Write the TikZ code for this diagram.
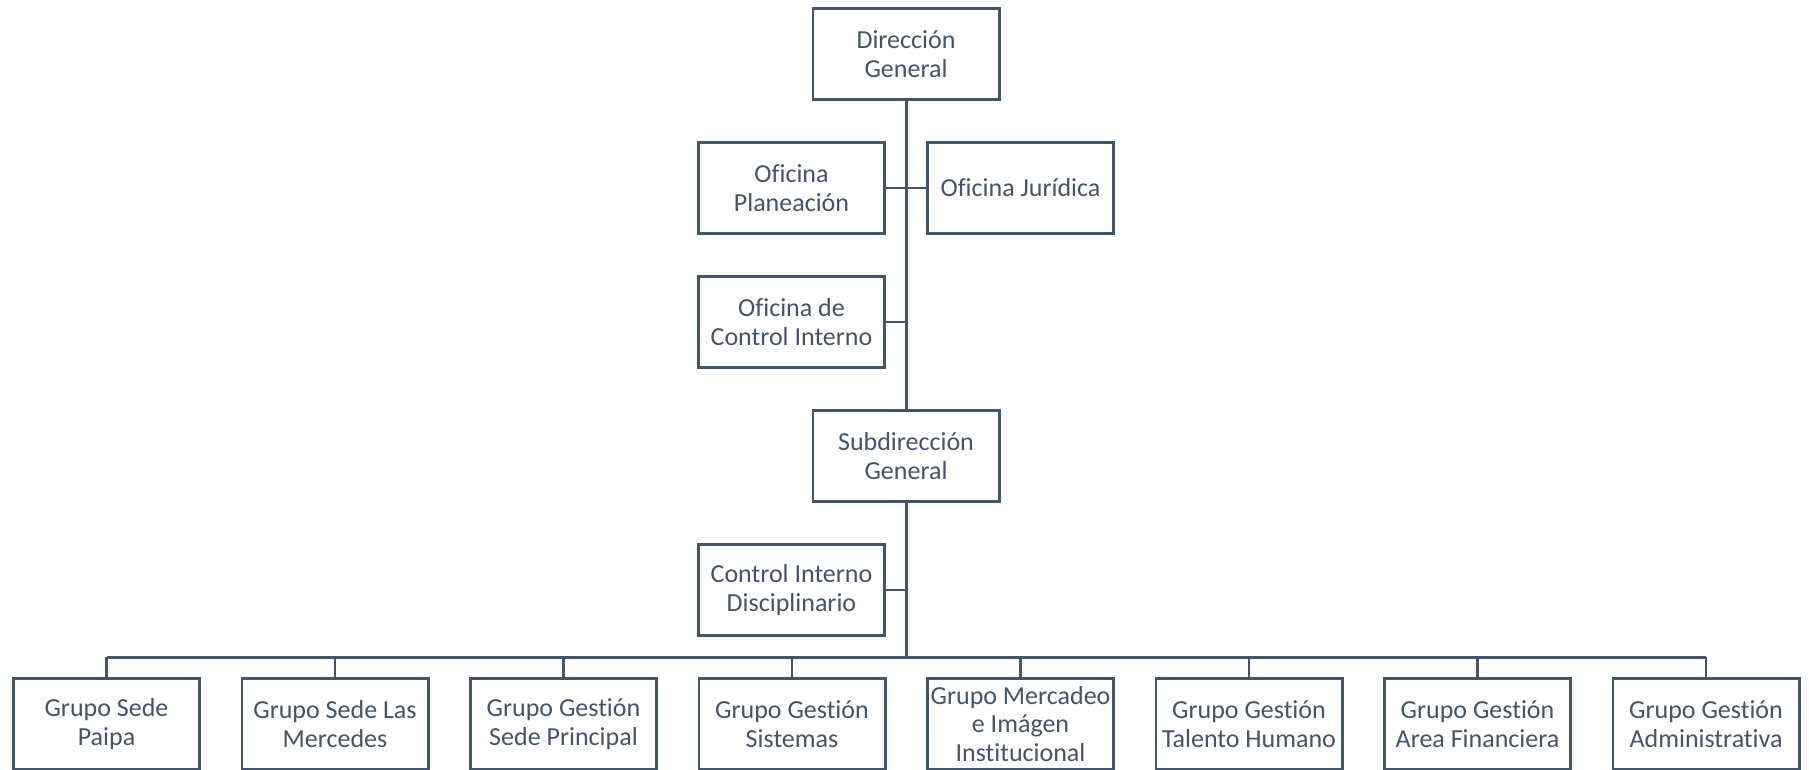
\documentclass[tikz,border=0pt]{standalone}
\usepackage{fontspec}
\setmainfont{Carlito}[Ligatures=NoCommon]
\usetikzlibrary{positioning}
\definecolor{slate}{HTML}{44546A}
\tikzset{
  unit/.style={draw=slate, line width=2.7pt, text=slate, fill=white,
    minimum width=186.3pt, minimum height=91.3pt, inner sep=0pt,
    align=center, font=\fontsize{26}{28.5}\selectfont},
  trunk/.style={draw=slate, line width=3pt},
  branch/.style={draw=slate, line width=2.2pt},
}

\begin{document}
\begin{tikzpicture}[x=1pt, y=-1pt]
    \useasboundingbox (0,0) rectangle (1809,769);
    \clip (0,0) rectangle (1809,769);
    % top of the chart
    \node[unit] (dir) at (906,54) {Dirección\\General};
    \coordinate (t1) at (906,188);
    \coordinate (t2) at (906,322);
    \node[unit, left=20pt of t1] (plan) {Oficina\\Planeación};
    \node[unit, right=20pt of t1] (jur) {Oficina Jurídica};
    \node[unit, left=20pt of t2] (oci) {Oficina de\\Control Interno};
    \node[unit] (sub) at (906,456) {Subdirección\\General};
    \coordinate (t3) at (906,590);
    \node[unit, left=20pt of t3] (cid) {Control Interno\\Disciplinario};
    \coordinate (bus) at (906,657);
    % groups
    \foreach \label [count=\i] in {{Grupo Sede\\Paipa}, {Grupo Sede Las\\Mercedes},
        {Grupo Gestión\\Sede Principal}, {Grupo Gestión\\Sistemas},
        {Grupo Mercadeo\\e Imágen\\Institucional}, {Grupo Gestión\\Talento Humano},
        {Grupo Gestión\\Area Financiera}, {Grupo Gestión\\Administrativa}}
        \node[unit] (g\i) at ({106.5+228.5*(\i-1)},724) {\label};
    % connectors
    \draw[trunk] (dir) -- (sub);
    \draw[trunk] (sub) -- (bus);
    \draw[branch] (plan) -- (t1) -- (jur);
    \draw[branch] (oci) -- (t2);
    \draw[branch] (cid) -- (t3);
    \draw[trunk] (g1.north |- bus) -- (g8.north |- bus);
    \foreach \i in {1,...,8}
        \draw[branch] (g\i) -- (g\i.north |- bus);
\end{tikzpicture}
\end{document}
